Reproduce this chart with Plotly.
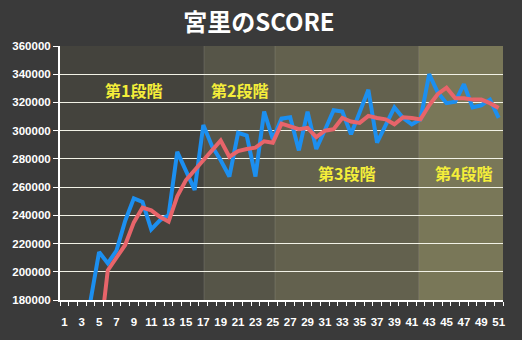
import plotly.graph_objects as go

# ---- data ----
rounds = list(range(1, 52))
score = [None, None, None, 179000, 214000, 206000, 215000, 236000, 252000, 249500,
         230000, 236500, 240000, 285000, 271000, 258000, 304000, 289000, 279000, 267500,
         298500, 296500, 267500, 313500, 294000, 308500, 309500, 286000, 313500, 287000,
         300500, 314500, 313500, 297500, 313000, 329000, 291500, 304500, 316500, 309000,
         304500, 308000, 340000, 327000, 319500, 320500, 333000, 316500, 318000, 322000,
         309000]
avg = [None, None, None, None, 148000, 201000, 210000, 219000, 235000, 245500,
       243500, 239000, 235500, 253500, 265000, 272500, 279000, 286000, 293000, 281500,
       285500, 287000, 288000, 292500, 291500, 305000, 303000, 301000, 302000, 295500,
       300000, 301000, 309000, 306500, 305500, 310500, 309000, 308000, 304500, 309500,
       309000, 308000, 318000, 326000, 330500, 323000, 323000, 322000, 322000, 319500,
       316000]
x_labels = list(range(1, 52, 2))
y_ticks = list(range(180000, 360001, 20000))

stage_names = ["第1段階", "第2段階", "第3段階", "第4段階"]
stage_label_x = [9.0, 21.2, 33.5, 46.9]
stage_label_y = [329000, 329000, 270200, 270200]
stage_bounds = [0.5, 17.08, 25.25, 41.8, 51.5]
stage_colors = ["#44433d", "#565548", "#63614e", "#797758"]

TITLE = "宮里のSCORE"

fig = go.Figure()

fig.add_trace(go.Scatter(x=rounds, y=score, mode="lines",
                         line=dict(color="#1c8ff0", width=4), connectgaps=False,
                         hoverinfo="skip"))
fig.add_trace(go.Scatter(x=rounds, y=avg, mode="lines",
                         line=dict(color="#e8646a", width=4), connectgaps=False,
                         hoverinfo="skip"))

shapes = []
for i in range(4):
    shapes.append(dict(type="rect", xref="x", yref="paper",
                       x0=stage_bounds[i], x1=stage_bounds[i + 1], y0=0, y1=1,
                       fillcolor=stage_colors[i], line=dict(width=0), layer="below"))
for b in stage_bounds[1:-1]:
    shapes.append(dict(type="line", xref="x", yref="paper", x0=b, x1=b, y0=0, y1=1,
                       line=dict(color="rgba(255,255,255,0.12)", width=1), layer="below"))

annotations = []
for name, ax, ay in zip(stage_names, stage_label_x, stage_label_y):
    annotations.append(dict(x=ax, y=ay, xref="x", yref="y", text=name, showarrow=False,
                            font=dict(family="Noto Sans CJK JP", size=16, color="#f4ee3a",
                                      weight="bold"),
                            xanchor="center", yanchor="middle"))

fig.update_layout(
    width=522, height=340,
    margin=dict(l=60, r=19, t=46, b=33, pad=0),
    paper_bgcolor="#3a3a3a",
    plot_bgcolor=stage_colors[0],
    showlegend=False,
    shapes=shapes,
    annotations=annotations,
    title=dict(text=TITLE, x=0.496, xref="container", xanchor="center",
               y=1 - 23 / 340, yref="container", yanchor="middle",
               font=dict(family="Noto Sans CJK JP", size=24, color="white", weight="bold")),
    xaxis=dict(range=[0.5, 51.5], tickmode="array", tickvals=x_labels,
               ticktext=[str(v) for v in x_labels],
               ticks="outside", ticklen=10, tickcolor="rgba(0,0,0,0)",
               minor=dict(ticks="outside", ticklen=4, tickcolor="white", tickwidth=1,
                          tick0=0.5, dtick=1, showgrid=False),
               showgrid=False, zeroline=False,
               showline=True, linecolor="white", linewidth=2,
               tickfont=dict(family="Liberation Sans", size=11.5, color="white", weight="bold"),
               fixedrange=True),
    yaxis=dict(range=[180000, 360000], tickmode="array", tickvals=y_ticks,
               tickformat="d", ticks="outside", ticklen=5, tickcolor="white", tickwidth=1,
               showgrid=True, gridcolor="#f2f2e6", gridwidth=1, zeroline=False,
               showline=True, linecolor="white", linewidth=2,
               tickfont=dict(family="Liberation Sans", size=11.5, color="white", weight="bold"),
               fixedrange=True),
)

fig.write_html("out.html")
